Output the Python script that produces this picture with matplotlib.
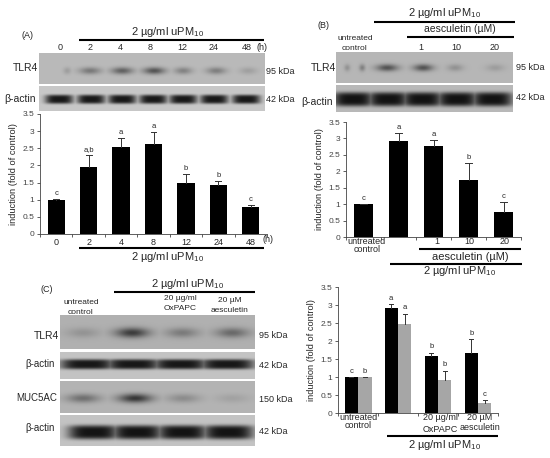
import numpy as np
import matplotlib
matplotlib.use('Agg')
import matplotlib.pyplot as plt

plt.rcParams['font.family'] = ['Liberation Sans', 'DejaVu Sans']
plt.rcParams['mathtext.default'] = 'regular'

W = 550
H = 458
TXT = '#262626'

# panel A bars
a_cats = ['0', '2', '4', '8', '12', '24', '48']
a_vals = [1.0, 1.95, 2.55, 2.63, 1.48, 1.42, 0.78]
a_tops = [1.03, 2.3, 2.8, 2.98, 1.75, 1.54, 0.85]
a_letters = ['c', 'a,b', 'a', 'a', 'b', 'b', 'c']

# panel B bars
b_vals = [1.0, 2.92, 2.76, 1.73, 0.76]
b_tops = [1.0, 3.18, 2.95, 2.26, 1.07]
b_letters = ['c', 'a', 'a', 'b', 'c']

# panel C bars
c_black = [1.0, 2.91, 1.58, 1.67]
c_black_tops = [1.0, 3.02, 1.68, 2.05]
c_black_letters = ['c', 'a', 'b', 'b']
c_gray = [0.99, 2.48, 0.92, 0.29]
c_gray_tops = [1.0, 2.76, 1.18, 0.36]
c_gray_letters = ['b', 'a', 'b', 'c']

y_ticks = [0, 0.5, 1, 1.5, 2, 2.5, 3, 3.5]
y_labels = ['0', '0.5', '1', '1.5', '2', '2.5', '3', '3.5']

# blot band strength per lane (0 = nothing, 1 = black)
a_tlr4 = [0.15, 0.35, 0.48, 0.55, 0.3, 0.32, 0.14]
a_actin = [0.88, 0.88, 0.88, 0.88, 0.88, 0.88, 0.88]
b_tlr4 = [0.2, 0.3, 0.55, 0.55, 0.2, 0.14]
b_actin = [0.9, 0.9, 0.9, 0.9, 0.9]
c_tlr4 = [0.16, 0.66, 0.3, 0.4]
c_actin1 = [0.88, 0.88, 0.88, 0.88]
c_muc = [0.38, 0.7, 0.22, 0.1]
c_actin2 = [0.9, 0.9, 0.9, 0.9]

fig = plt.figure(figsize=(W / 100, H / 100), dpi=100)
ov = fig.add_axes([0, 0, 1, 1])
ov.set_axis_off()


def blot(box, bg, lanes, half_w, y, half_h, strengths, p=2):
    x0, x1, y0, y1 = box
    xs, ys = np.meshgrid(np.arange(x0, x1, 0.5), np.arange(y0, y1, 0.5))
    mask = np.zeros(xs.shape)
    half_w = np.broadcast_to(half_w, len(lanes))
    for lane, hw, s in zip(lanes, half_w, strengths):
        m = np.exp(-(np.abs(xs - lane) / hw) ** (p * 2)) * np.exp(-(np.abs(ys - y) / half_h) ** (p * 2))
        mask = np.maximum(mask, m * s)
    ov.imshow(bg * (1 - mask), cmap='gray', vmin=0, vmax=255, extent=[x0, x1, y1, y0],
              aspect='auto', interpolation='bilinear')


def label(x, y, s, size=6.5, ha='center'):
    ov.text(x, y, s, fontsize=size, ha=ha, va='center', color=TXT)


def rule(x0, x1, y, lw=1.5):
    ov.plot([x0, x1], [y, y], color='black', lw=lw, solid_capstyle='butt')


def bar_axes(left, right, top, bottom, xlim):
    ax = fig.add_axes([left / W, 1 - bottom / H, (right - left) / W, (bottom - top) / H])
    ax.patch.set_alpha(0)
    ax.set_xlim(*xlim)
    ax.set_ylim(0, 3.5)
    ax.spines['top'].set_visible(False)
    ax.spines['right'].set_visible(False)
    for s in ['left', 'bottom']:
        ax.spines[s].set_linewidth(0.6)
        ax.spines[s].set_color('#444444')
    ax.set_yticks(y_ticks)
    ax.set_yticklabels(y_labels, fontsize=6, color='#444444')
    ax.set_xticks(np.arange(xlim[0], xlim[1] + 0.5))
    ax.set_xticklabels([])
    ax.tick_params(length=2, width=0.6, color='#444444', pad=2)
    ax.set_ylabel('induction (fold of control)', fontsize=6.7, color=TXT, labelpad=3)
    return ax


def bars(ax, xs, vals, tops, letters, width, color):
    ax.bar(xs, vals, width=width, color=color)
    for x, v, t, l in zip(xs, vals, tops, letters):
        ax.plot([x, x], [v, t], color='#333333', lw=0.7)
        ax.plot([x - width * 0.17, x + width * 0.17], [t, t], color='#333333', lw=0.7)
        ax.text(x, t + 0.06, l, fontsize=5.5, ha='center', va='bottom', color=TXT)


PM = '2 µg/ml uPM$_{10}$'

# ---- panel A
blot((39, 265, 53, 84), 186, [67, 90, 122, 154, 183, 216, 248], [4, 11, 11, 11, 9, 10, 9], 70.5, 3.5, a_tlr4, p=1)
blot((39, 265, 86, 111), 200, [59, 91, 122, 153, 183, 214, 246], 14, 99, 4.5, a_actin)
label(28, 35, '(A)')
label(168, 32, PM, 8)
rule(79, 264, 39.5)
for x, s in zip([60, 90, 120, 150, 182, 214, 247], a_cats):
    label(x, 48, s)
label(262, 48, '(h)')
label(38, 68, 'TLR4', 7.5, 'right')
label(36, 99, 'β-actin', 7.5, 'right')
label(266, 71, '95 kDa', 6.5, 'left')
label(266, 100, '42 kDa', 6.5, 'left')

ax_a = bar_axes(40, 267, 114, 234, (-0.5, 6.5))
bars(ax_a, np.arange(len(a_vals)), a_vals, a_tops, a_letters, 0.53, 'black')
ax_a.set_xticks(np.arange(len(a_cats)), minor=True)
ax_a.set_xticklabels(a_cats, minor=True, fontsize=6.5, color=TXT)
ax_a.tick_params(axis='x', which='minor', length=0, pad=3)
label(268, 240, '(h)')
rule(79, 264, 248)
label(168, 257, PM, 8)

# ---- panel B
blot((336, 513, 52, 83), 182, [347, 362, 387, 423, 455, 495], [3, 3, 11, 10, 8, 9], 67.5, 3.5, b_tlr4, p=1)
blot((336, 513, 85, 112), 185, [353, 388, 422, 457, 492], 20, 99, 7, b_actin)
label(323, 25, '(B)')
label(445, 13, PM, 8)
rule(374, 515, 22)
label(460, 29, 'aesculetin (µM)', 7.5)
rule(407, 514, 37)
label(355, 38, 'untreated', 6)
label(355, 48, 'control', 6)
label(421, 47, '1')
label(456, 47, '10')
label(495, 47, '20')
label(336, 68, 'TLR4', 7.5, 'right')
label(333, 102, 'β-actin', 7.5, 'right')
label(516, 68, '95 kDa', 6.5, 'left')
label(516, 98, '42 kDa', 6.5, 'left')

ax_b = bar_axes(346, 521, 122, 237, (-0.5, 4.5))
bars(ax_b, np.arange(len(b_vals)), b_vals, b_tops, b_letters, 0.52, 'black')
label(367, 241, 'untreated')
label(367, 249.5, 'control')
label(437, 242, '1')
label(469, 242, '10')
label(505, 242, '20')
rule(419, 521, 249)
label(470, 257, 'aesculetin (µM)', 8)
rule(390, 522, 264)
label(460, 271, PM, 8)

# ---- panel C
blot((60, 255, 315, 349), 176, [83, 132, 182, 232], 17, 332.5, 5, c_tlr4, p=1)
blot((60, 255, 352, 379), 195, [87, 133, 180, 227], 27, 364, 5, c_actin1)
blot((60, 255, 381, 413), 180, [83, 135, 183, 232], 17, 398, 4.5, c_muc, p=1)
blot((60, 255, 415, 446), 195, [93, 137, 182, 228], 25, 432, 7, c_actin2)
label(47, 290, '(C)')
label(188, 284, PM, 8)
rule(114, 255, 292)
label(81, 303, 'untreated', 6)
label(81, 312, 'control', 6)
label(180, 298, '20 µg/ml', 6)
label(180, 309, 'OxPAPC', 6)
label(230, 301, '20 µM', 6)
label(230, 310, 'aesculetin', 6)
label(59, 336, 'TLR4', 7.5, 'right')
label(55, 364, 'β-actin', 7, 'right')
label(57, 398, 'MUC5AC', 7, 'right')
label(55, 428, 'β-actin', 7, 'right')
label(259, 335, '95 kDa', 6.5, 'left')
label(259, 365, '42 kDa', 6.5, 'left')
label(259, 399, '150 kDa', 6.5, 'left')
label(259, 431, '42 kDa', 6.5, 'left')

ax_c = bar_axes(338, 498, 287, 413, (-0.5, 3.5))
xs_c = np.arange(len(c_black))
bars(ax_c, xs_c - 0.17, c_black, c_black_tops, c_black_letters, 0.335, 'black')
bars(ax_c, xs_c + 0.17, c_gray, c_gray_tops, c_gray_letters, 0.335, '#a6a6a6')
label(358, 417, 'untreated')
label(358, 426, 'control')
label(440, 418, '20 µg/ml')
label(440, 429, 'OxPAPC')
label(480, 418, '20 µM')
label(480, 428, 'aesculetin')
rule(387, 498, 436)
label(445, 445, PM, 8)

ov.set_xlim(0, W)
ov.set_ylim(H, 0)

fig.savefig('out.png', dpi=100)
